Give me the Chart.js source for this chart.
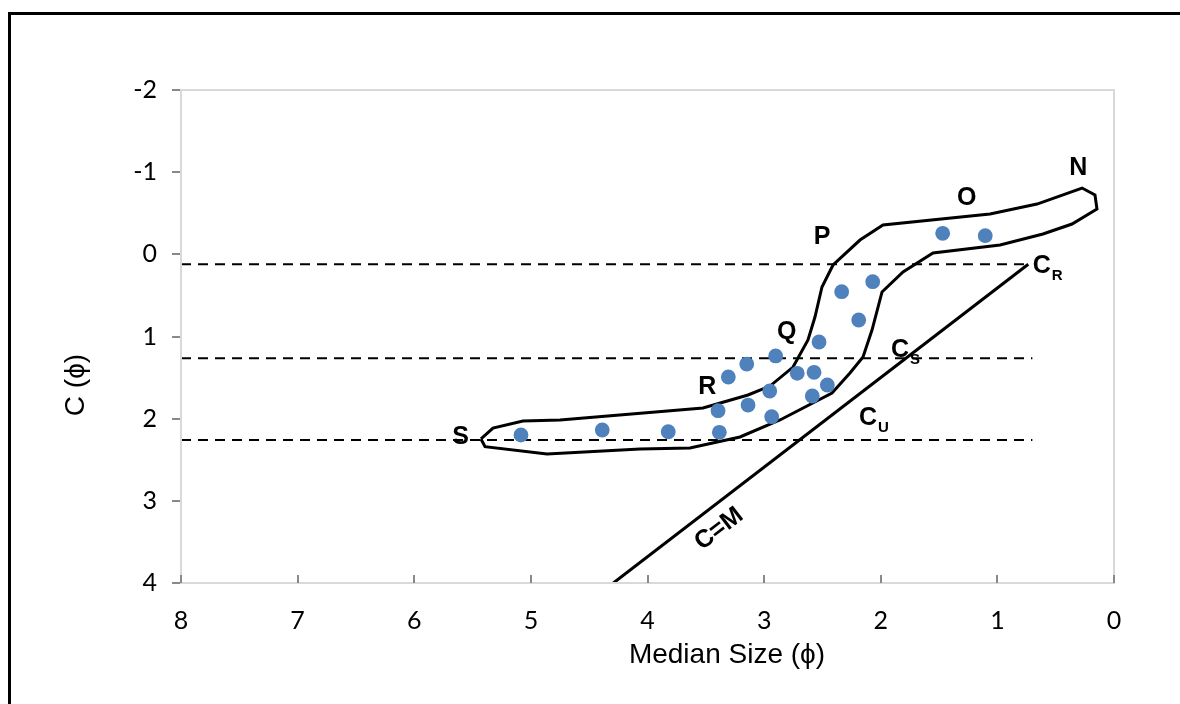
<!DOCTYPE html>
<html>
<head>
<meta charset="utf-8">
<script src="https://cdn.jsdelivr.net/npm/chart.js@4.4.1/dist/chart.umd.min.js"></script>
<style>
  html, body { margin: 0; padding: 0; background: #ffffff; overflow: hidden; width: 1180px; height: 704px; }
  #frame { position: absolute; left: 8px; top: 12px; width: 3000px; height: 3000px; border: 3px solid #000; box-sizing: border-box; }
  #c { position: absolute; left: 0; top: 0; }
</style>
</head>
<body>
<div id="frame"></div>
<canvas id="c" width="1180" height="704"></canvas>
<script>
// ---- data ----
const sampleX = [5.085, 4.388, 3.822, 3.384, 3.395, 3.138, 2.935, 2.952, 3.307, 3.149, 2.901, 2.716, 2.572, 2.458, 2.587, 2.529, 2.335, 2.189, 2.069, 1.469, 1.104];
const sampleY = [2.199, 2.138, 2.159, 2.166, 1.903, 1.834, 1.976, 1.663, 1.493, 1.335, 1.237, 1.448, 1.436, 1.590, 1.724, 1.067, 0.455, 0.799, 0.333, -0.256, -0.227];

const envelopeX = [5.428, 5.325, 5.068, 4.750, 3.524, 3.138, 2.950, 2.752, 2.624, 2.564, 2.504, 2.409, 2.178, 1.981, 1.063, 0.660, 0.274, 0.163, 0.146, 0.360, 0.609, 0.977, 1.552, 1.809, 1.989, 2.075, 2.152, 2.264, 2.418, 2.864, 3.207, 3.636, 4.064, 4.862, 5.393, 5.428];
const envelopeY = [2.247, 2.114, 2.028, 2.016, 1.870, 1.712, 1.603, 1.372, 1.043, 0.763, 0.397, 0.130, -0.174, -0.357, -0.491, -0.612, -0.807, -0.722, -0.552, -0.369, -0.247, -0.114, -0.016, 0.215, 0.458, 0.921, 1.249, 1.444, 1.688, 2.016, 2.223, 2.357, 2.370, 2.431, 2.341, 2.247];

const cmLineX = [4.293, 0.735];
const cmLineY = [4, 0.12];

const dashLevels = [0.12, 1.266, 2.26];
const dashStartX = [8, 8, 8];
const dashEndX = [0.745, 0.70, 0.70];

const xTickValues = [8, 7, 6, 5, 4, 3, 2, 1, 0];
const xTickLabels = ['8', '7', '6', '5', '4', '3', '2', '1', '0'];
const yTickValues = [-2, -1, 0, 1, 2, 3, 4];
const yTickLabels = ['-2', '-1', '0', '1', '2', '3', '4'];

const zoneLabels = ['N', 'O', 'P', 'Q', 'R', 'S'];
const zoneLabelX = [0.306, 1.263, 2.504, 2.807, 3.487, 5.602];
const zoneLabelY = [-1.047, -0.681, -0.215, 0.942, 1.614, 2.228];

const cLabels = ['C', 'C', 'C'];
const cSubs = ['R', 'S', 'U'];
const cLabelX = [0.62, 1.835, 2.109];
const cLabelY = [0.14, 1.165, 1.99];

const diagLabel = 'C=M';
const diagLabelX = 3.387;
const diagLabelY = 3.342;

const xTitle = 'Median Size (\u03d5)';
const yTitle = 'C (\u03d5)';

// ---- build datasets ----
const pts = (xs, ys) => xs.map((x, i) => ({ x: x, y: ys[i] }));

const datasets = [
  {
    label: 'samples',
    data: pts(sampleX, sampleY),
    backgroundColor: '#4F81BD',
    borderWidth: 0,
    pointRadius: 7.4,
    pointHoverRadius: 7.4,
    showLine: false
  },
  {
    label: 'envelope',
    data: pts(envelopeX, envelopeY),
    showLine: true,
    borderColor: '#000',
    borderWidth: 3,
    pointRadius: 0,
    fill: false,
    tension: 0
  },
  {
    label: 'C=M',
    data: pts(cmLineX, cmLineY),
    showLine: true,
    borderColor: '#000',
    borderWidth: 3,
    pointRadius: 0
  }
];
dashLevels.forEach((lv, i) => {
  datasets.push({
    label: 'level' + i,
    data: [{ x: dashStartX[i], y: lv }, { x: dashEndX[i], y: lv }],
    showLine: true,
    borderColor: '#000',
    borderWidth: 2,
    borderDash: [10, 7],
    pointRadius: 0
  });
});

const decor = {
  id: 'decor',
  afterDraw(chart) {
    const ctx = chart.ctx, a = chart.chartArea;
    const xs = chart.scales.x, ys = chart.scales.y;
    ctx.save();
    // plot frame
    ctx.strokeStyle = '#D9D9D9';
    ctx.lineWidth = 2;
    ctx.strokeRect(a.left, a.top, a.right - a.left, a.bottom - a.top);
    // inside tick marks on x axis
    ctx.strokeStyle = '#898989';
    ctx.lineWidth = 2;
    xTickValues.forEach(v => {
      const px = Math.round(xs.getPixelForValue(v));
      ctx.beginPath();
      ctx.moveTo(px, a.bottom);
      ctx.lineTo(px, a.bottom - 8);
      ctx.stroke();
    });
    // axis titles
    ctx.fillStyle = '#000';
    ctx.font = '28px "Liberation Sans", Arial, sans-serif';
    ctx.textAlign = 'center';
    ctx.textBaseline = 'alphabetic';
    ctx.fillText(xTitle, 727, 663);
    ctx.save();
    ctx.translate(84, 385);
    ctx.rotate(-Math.PI / 2);
    ctx.fillText(yTitle, 0, 0);
    ctx.restore();
    // zone labels
    ctx.font = 'bold 25px "Liberation Sans", Arial, sans-serif';
    ctx.textBaseline = 'middle';
    zoneLabels.forEach((t, i) => {
      ctx.fillText(t, xs.getPixelForValue(zoneLabelX[i]), ys.getPixelForValue(zoneLabelY[i]));
    });
    // C labels with subscripts
    cLabels.forEach((t, i) => {
      const px = xs.getPixelForValue(cLabelX[i]);
      const py = ys.getPixelForValue(cLabelY[i]);
      ctx.font = 'bold 25px "Liberation Sans", Arial, sans-serif';
      ctx.textAlign = 'center';
      ctx.fillText(t, px, py);
      ctx.font = 'bold 15px "Liberation Sans", Arial, sans-serif';
      ctx.textAlign = 'left';
      ctx.fillText(cSubs[i], px + 10, py + 10);
    });
    // diagonal label
    const ang = Math.atan2(
      ys.getPixelForValue(cmLineY[1]) - ys.getPixelForValue(cmLineY[0]),
      xs.getPixelForValue(cmLineX[1]) - xs.getPixelForValue(cmLineX[0])
    );
    ctx.save();
    ctx.translate(xs.getPixelForValue(diagLabelX), ys.getPixelForValue(diagLabelY));
    ctx.rotate(ang);
    ctx.font = 'bold 25px "Liberation Sans", Arial, sans-serif';
    ctx.textAlign = 'center';
    ctx.textBaseline = 'middle';
    ctx.fillText(diagLabel, 0, 0);
    ctx.restore();
    ctx.restore();
  }
};

new Chart(document.getElementById('c'), {
  type: 'scatter',
  data: { datasets: datasets },
  options: {
    responsive: false,
    animation: false,
    events: [],
    layout: { padding: { top: 90, right: 66, left: 0, bottom: 0 } },
    plugins: { legend: { display: false }, tooltip: { enabled: false } },
    scales: {
      x: {
        type: 'linear',
        min: 0, max: 8, reverse: true,
        afterFit: s => { s.height = 121; },
        afterBuildTicks: s => { s.ticks = xTickValues.map(v => ({ value: v })); },
        ticks: {
          padding: 23,
          color: '#000',
          font: { family: 'Lato', size: 25 },
          maxRotation: 0,
          callback: (v) => xTickLabels[xTickValues.indexOf(v)]
        },
        grid: { display: true, drawOnChartArea: false, drawTicks: false },
        border: { display: true, color: '#D9D9D9', width: 2 }
      },
      y: {
        type: 'linear',
        min: -2, max: 4, reverse: true,
        afterFit: s => { s.width = 181; },
        afterBuildTicks: s => { s.ticks = yTickValues.map(v => ({ value: v })); },
        ticks: {
          padding: 15,
          color: '#000',
          font: { family: 'Lato', size: 25 },
          callback: (v) => yTickLabels[yTickValues.indexOf(v)]
        },
        grid: { display: true, drawOnChartArea: false, drawTicks: true, tickLength: 9, color: '#898989', lineWidth: 2 },
        border: { display: true, color: '#D9D9D9', width: 2 }
      }
    }
  },
  plugins: [decor]
});
</script>
</body>
</html>
